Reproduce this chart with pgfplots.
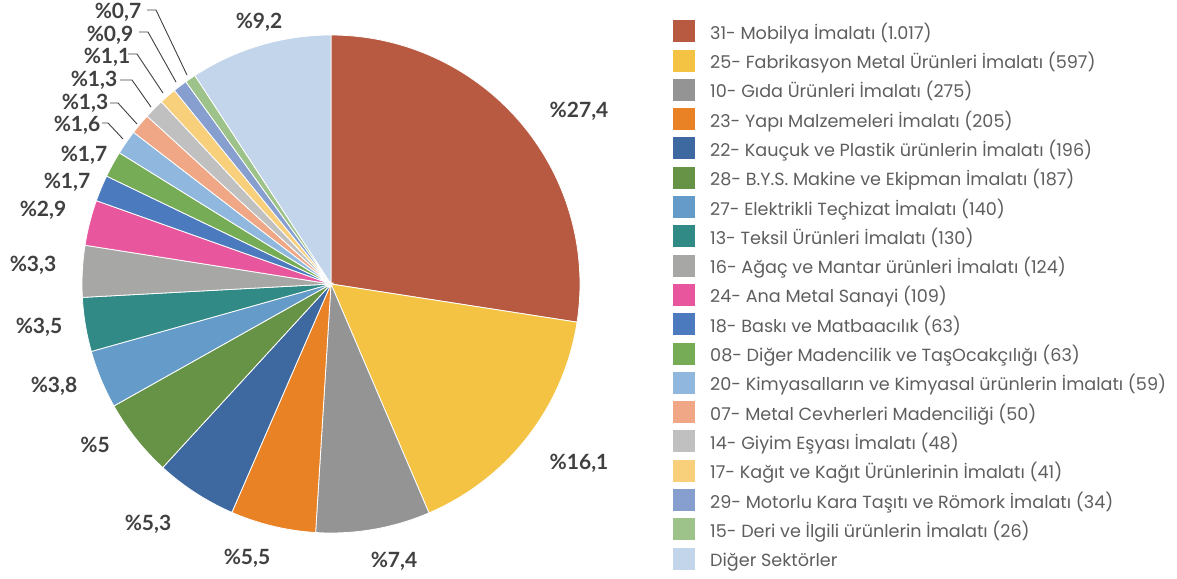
\documentclass[border=0pt]{standalone}
\usepackage{pgfplots}
\pgfplotsset{compat=1.18}
\usepackage{fontspec}
\setmainfont{Lato}
\newfontfamily\legfont{Poppins}
\definecolor{c1}{HTML}{B85A41}
\definecolor{c2}{HTML}{F4C343}
\definecolor{c3}{HTML}{949494}
\definecolor{c4}{HTML}{E88225}
\definecolor{c5}{HTML}{3E69A0}
\definecolor{c6}{HTML}{679347}
\definecolor{c7}{HTML}{659BC8}
\definecolor{c8}{HTML}{318A86}
\definecolor{c9}{HTML}{A7A8A6}
\definecolor{c10}{HTML}{E8579E}
\definecolor{c11}{HTML}{4B7BBE}
\definecolor{c12}{HTML}{76AC55}
\definecolor{c13}{HTML}{90B8DF}
\definecolor{c14}{HTML}{EFA786}
\definecolor{c15}{HTML}{C0C0C0}
\definecolor{c16}{HTML}{F8D07C}
\definecolor{c17}{HTML}{869FCF}
\definecolor{c18}{HTML}{9DC28A}
\definecolor{c19}{HTML}{C2D5EA}
\definecolor{lblgray}{HTML}{404040}
\definecolor{leggray}{HTML}{5E5E5E}
% count / colour / legend text
\newcommand\slices{%
1017/c1/{31- Mobilya İmalatı (1.017)},
597/c2/{25- Fabrikasyon Metal Ürünleri İmalatı (597)},
275/c3/{10- Gıda Ürünleri İmalatı (275)},
205/c4/{23- Yapı Malzemeleri İmalatı (205)},
196/c5/{22- Kauçuk ve Plastik ürünlerin İmalatı (196)},
187/c6/{28- B.Y.S. Makine ve Ekipman İmalatı (187)},
140/c7/{27- Elektrikli Teçhizat İmalatı (140)},
130/c8/{13- Teksil Ürünleri İmalatı (130)},
124/c9/{16- Ağaç ve Mantar ürünleri İmalatı (124)},
109/c10/{24- Ana Metal Sanayi (109)},
63/c11/{18- Baskı ve Matbaacılık (63)},
63/c12/{08- Diğer Madencilik ve TaşOcakçılığı (63)},
59/c13/{20- Kimyasalların ve Kimyasal ürünlerin İmalatı (59)},
50/c14/{07- Metal Cevherleri Madenciliği (50)},
48/c15/{14- Giyim Eşyası İmalatı (48)},
41/c16/{17- Kağıt ve Kağıt Ürünlerinin İmalatı (41)},
34/c17/{29- Motorlu Kara Taşıtı ve Römork İmalatı (34)},
26/c18/{15- Deri ve İlgili ürünlerin İmalatı (26)},
341/c19/{Diğer Sektörler}}
\def\total{3705}
\def\cx{331}
\def\cy{284}
\def\rr{249}
\begin{document}
\begin{tikzpicture}
\begin{axis}[
  scale only axis, width=1177pt, height=578pt,
  xmin=0, xmax=1177, ymin=0, ymax=578, y dir=reverse,
  hide axis, clip=false,
  legend cell align=left,
  legend style={at={(axis cs:670,18)}, anchor=north west, draw=none, fill=none,
    font=\legfont\fontsize{17.6}{20}\selectfont, text=leggray,
    row sep=5.3pt, column sep=15pt,
    nodes={inner sep=0pt, text height=15pt, text depth=5pt}},
  legend image code/.code={\path[#1,draw=none] (0pt,-8pt) rectangle (22pt,14pt);},
]
\xdef\cum{0}
\foreach \v/\c/\lab in \slices {
  \pgfmathsetmacro\a{90-\cum/\total*360}
  \pgfmathsetmacro\b{90-(\cum+\v)/\total*360}
  \edef\temp{\noexpand\addplot[fill=\c, draw=white, line width=0.8pt, domain=\b:\a, samples=90]
    ({\cx+\rr*cos(x)},{\cy-\rr*sin(x)}) -- (axis cs:\cx,\cy) -- cycle;
    \noexpand\addlegendentry{\lab}}
  \temp
  \pgfmathsetmacro\newcum{\cum+\v}
  \xdef\cum{\newcum}
}
\begin{scope}[every node/.style={font=\bfseries\fontsize{21}{21}\selectfont, text=lblgray, inner sep=0pt}]
\node at (axis cs:579,111) {\%27,4};
\node at (axis cs:579,463) {\%16,1};
\node at (axis cs:394,561) {\%7,4};
\node at (axis cs:247,558) {\%5,5};
\node at (axis cs:148,524) {\%5,3};
\node at (axis cs:95,445) {\%5};
\node at (axis cs:54,386) {\%3,8};
\node at (axis cs:39,327) {\%3,5};
\node at (axis cs:33,265) {\%3,3};
\node at (axis cs:43,210) {\%2,9};
\node at (axis cs:67,182) {\%1,7};
\node at (axis cs:84,155) {\%1,7};
\node at (axis cs:77,125) {\%1,6};
\node at (axis cs:85,103) {\%1,3};
\node at (axis cs:94,80) {\%1,3};
\node at (axis cs:107,57) {\%1,1};
\node at (axis cs:110,35) {\%0,9};
\node at (axis cs:118,12) {\%0,7};
\node at (axis cs:259,22) {\%9,2};
\end{scope}
\begin{scope}[lblgray, line width=0.9pt]
\draw (axis cs:147,10) -- (axis cs:156,10) -- (axis cs:187,75);
\draw (axis cs:139,32) -- (axis cs:148,32) -- (axis cs:176,82);
\draw (axis cs:128,54) -- (axis cs:137,54) -- (axis cs:163,93);
\draw (axis cs:120,80) -- (axis cs:132,80) -- (axis cs:151,107);
\draw (axis cs:110,103) -- (axis cs:118,103) -- (axis cs:137,124);
\draw (axis cs:102,123) -- (axis cs:108,123) -- (axis cs:123,139);
\end{scope}
\end{axis}
\pgfresetboundingbox
\path (0,0) rectangle (1177pt,578pt);
\end{tikzpicture}
\end{document}
